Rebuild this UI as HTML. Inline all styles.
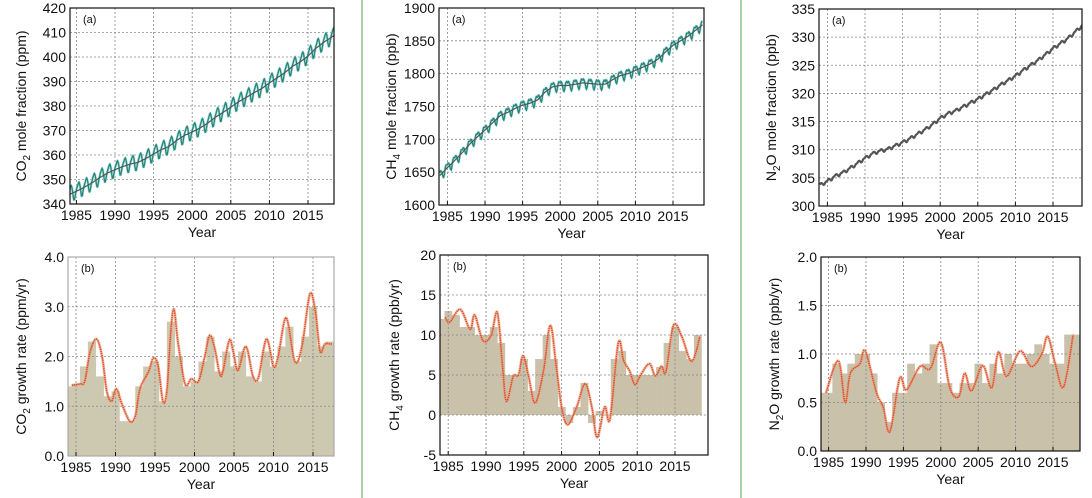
<!DOCTYPE html>
<html><head><meta charset="utf-8"><style>
html,body{margin:0;padding:0;background:#fff;}
svg{display:block;font-family:"Liberation Sans",Arial,sans-serif;}
</style></head><body>
<svg id="fig" width="1092" height="498" viewBox="0 0 1092 498" xmlns="http://www.w3.org/2000/svg">
<rect x="0" y="0" width="1092" height="498" fill="#fff"/>
<line x1="362" y1="0" x2="362" y2="498" stroke="#8cc08c" stroke-width="1.5"/>
<line x1="741" y1="0" x2="741" y2="498" stroke="#8cc08c" stroke-width="1.5"/>
</svg>
<script>
// ---- data: annual trend (from 1984) ----
const trendYears = [1984,1985,1986,1987,1988,1989,1990,1991,1992,1993,1994,1995,1996,1997,1998,1999,2000,2001,2002,2003,2004,2005,2006,2007,2008,2009,2010,2011,2012,2013,2014,2015,2016,2017,2018,2019];
const co2Trend = [343.8,345.2,346.8,348.6,350.7,352.6,354.0,355.3,356.3,357.0,358.6,360.4,362.2,363.5,366.0,368.0,369.4,371.0,373.0,375.4,377.4,379.5,381.7,383.5,385.4,387.1,389.4,391.5,393.6,396.2,398.0,400.4,403.5,405.9,408.0,410.0];
const ch4Trend = [1645,1657,1668,1680,1693,1704,1714,1725,1736,1741,1747,1752,1755,1760,1772,1780,1782,1782,1784,1786,1785,1784,1784,1791,1797,1800,1805,1810,1815,1822,1833,1843,1850,1857,1866,1875];
const n2oTrend = [303.7,304.4,305.3,305.9,306.7,307.6,308.5,309.3,309.8,310.1,310.7,311.3,312.0,312.8,313.6,314.5,315.6,316.4,316.9,317.6,318.3,319.0,319.8,320.6,321.5,322.3,323.1,324.1,325.0,325.9,326.9,328.0,328.9,329.8,331.0,332.2];
const co2Season = [0.6,1.4,2.1,2.9,3.2,2.4,0.8,-1.4,-3.0,-3.1,-1.8,-0.5];
const ch4Season = [4,6,5,2,-2,-7,-9,-6,0,4,6,5];
const n2oSeason = [0.1,0.2,0.25,0.2,0.05,-0.15,-0.3,-0.3,-0.15,0,0.05,0.05];

// ---- data: growth rate bars (centered on year) ----
const barYears = [1984,1985,1986,1987,1988,1989,1990,1991,1992,1993,1994,1995,1996,1997,1998,1999,2000,2001,2002,2003,2004,2005,2006,2007,2008,2009,2010,2011,2012,2013,2014,2015,2016,2017,2018];
const co2Bars = [1.4,1.45,1.8,2.3,1.6,1.2,1.3,0.7,0.7,1.4,1.8,1.9,1.1,2.7,2.0,1.4,1.5,1.9,2.4,1.7,2.1,1.8,2.1,1.6,1.5,2.1,1.8,2.2,2.6,1.9,2.4,3.0,2.2,2.3,2.3];
const ch4Bars = [12,13,12.5,11,11,10,10,11,9,5,5,7,3,7,10,7,1,-1,1,4,-1,0.5,0,7,8,5,5,5,5,6,9,11,8,7,10];
const n2oBars = [0.6,0.6,0.9,0.8,0.9,1.0,1.0,0.8,0.5,0.3,0.6,0.6,0.9,0.8,0.9,1.1,0.7,0.7,0.6,0.7,0.7,0.9,0.7,0.9,0.8,1.0,0.9,0.9,1.0,1.1,1.0,0.9,0.9,1.2,1.2];

// ---- data: smoothed growth rate curves ----
const co2GrYears = [1984.45,1985.5,1986.1,1986.8,1987.6,1988.3,1988.9,1989.5,1990.1,1990.8,1991.8,1992.5,1993.1,1994.2,1994.8,1995.4,1996.0,1996.5,1997.0,1997.4,1997.9,1998.8,1999.6,2000.5,2001.3,2001.9,2002.5,2003.2,2003.6,2004.4,2004.9,2005.5,2006.5,2007.4,2008.1,2009.1,2010.0,2010.6,2011.6,2012.7,2013.6,2014.6,2015.3,2015.9,2016.5,2017.4];
const co2GrVals = [1.42,1.45,1.5,2.1,2.35,2.0,1.3,1.1,1.35,1.05,0.7,0.8,1.35,1.7,1.97,1.8,1.1,1.3,2.5,2.95,2.3,1.45,1.55,1.5,2.0,2.42,2.2,1.65,1.7,2.33,2.1,1.72,2.2,1.6,1.58,2.35,1.8,2.0,2.78,1.9,2.2,3.25,2.9,2.1,2.25,2.25];
const ch4GrYears = [1984.6,1985.2,1986.6,1987.9,1988.5,1989.6,1990.7,1991.5,1992.2,1992.7,1993.6,1994.3,1994.9,1995.6,1996.5,1997.6,1998.5,1999.3,2000.0,2000.8,2002.0,2003.1,2004.0,2004.7,2005.7,2006.4,2007.5,2008.2,2009.0,2009.7,2010.4,2011.6,2012.4,2013.2,2013.8,2014.8,2015.9,2017.2,2018.3];
const ch4GrVals = [12.2,11.6,13.2,10.7,12.5,9.3,10.0,12.8,6.0,1.7,4.8,5.0,7.4,5.0,1.5,5.5,11.2,6.0,1.0,-1.2,1.0,3.9,1.0,-2.8,1.0,-0.5,9.0,6.8,5.5,3.8,4.9,6.4,4.9,6.1,5.4,11.2,9.8,6.7,9.8];
const n2oGrYears = [1984.65,1986.3,1987.2,1987.9,1989.2,1989.9,1991.4,1992.3,1993.2,1994.5,1995.4,1997.2,1998.6,2000.0,2001.2,2002.4,2003.2,2004.1,2005.6,2006.8,2007.7,2008.8,2010.6,2012.1,2013.5,2014.3,2015.3,2016.4,2017.7];
const n2oGrVals = [0.6,0.93,0.5,0.8,0.9,1.03,0.6,0.45,0.2,0.75,0.63,0.87,0.85,1.12,0.65,0.56,0.8,0.62,0.88,0.65,1.02,0.77,1.03,0.87,1.0,1.18,0.9,0.66,1.2];

const yTicksCO2 = [340,350,360,370,380,390,400,410,420];
const yTicksCH4 = [1600,1650,1700,1750,1800,1850,1900];
const yTicksN2O = [300,305,310,315,320,325,330,335];
const yTicksCO2g = [0,1,2,3,4];
const yTicksCH4g = [-5,0,5,10,15,20];
const yTicksN2Og = [0,0.5,1,1.5,2];
const xTicks = [1985,1990,1995,2000,2005,2010,2015];

const NS = "http://www.w3.org/2000/svg";
const svg = document.getElementById('fig');
function mk(tag, attrs, parent){ const e=document.createElementNS(NS,tag); for(const k in attrs) e.setAttribute(k,attrs[k]); (parent||svg).appendChild(e); return e; }

function catmull(pts){
  let d = "M"+pts[0][0].toFixed(1)+","+pts[0][1].toFixed(1);
  for(let i=0;i<pts.length-1;i++){
    const p0=pts[Math.max(0,i-1)], p1=pts[i], p2=pts[i+1], p3=pts[Math.min(pts.length-1,i+2)];
    const c1x=p1[0]+(p2[0]-p0[0])/6, c1y=p1[1]+(p2[1]-p0[1])/6;
    const c2x=p2[0]-(p3[0]-p1[0])/6, c2y=p2[1]-(p3[1]-p1[1])/6;
    d+=" C"+c1x.toFixed(1)+","+c1y.toFixed(1)+" "+c2x.toFixed(1)+","+c2y.toFixed(1)+" "+p2[0].toFixed(1)+","+p2[1].toFixed(1);
  }
  return d;
}

function panel(c){
  const g = mk('g',{});
  
  
  const X = yr => c.gx + (yr-1990)*c.ppy;
  const Y = v => c.b - (v-c.y0)/(c.y1-c.y0)*(c.b-c.t);
  const clipId = c.name+'-clip';
  const defs = mk('defs',{},g);
  const cp = mk('clipPath',{id:clipId},defs);
  mk('rect',{x:c.l,y:c.t,width:c.r-c.l,height:c.b-c.t},cp);
  const plot = mk('g',{'clip-path':'url(#'+clipId+')'},g);
  
  

  if(c.bars){
    c.barY.forEach((yr,i)=>{
      const v=c.bars[i];
      const x0=X(yr-0.5), x1=X(yr+0.5);
      const bar = mk('rect',{x:x0,y:Math.min(Y(v),Y(0)),width:x1-x0+0.3,height:Math.abs(Y(v)-Y(0)),fill:c.barColor},plot);
      
      
    });
  }
  xTicks.forEach(t=>{ const ln=mk('line',{x1:X(t),x2:X(t),y1:c.t,y2:c.b,stroke:'#888','stroke-width':0.8,'stroke-dasharray':'2,2'},plot);
      });
  c.yt.forEach(t=>{ const ln=mk('line',{x1:c.l,x2:c.r,y1:Y(t),y2:Y(t),stroke:'#888','stroke-width':0.8,'stroke-dasharray':'2,2'},plot);
      });

  if(c.trend){
    const pts=[];
    for(let i=0;i<trendYears.length-1;i++){
      for(let m=0;m<12;m++){
        const f=m/12;
        const tv=c.trend[i]+(c.trend[i+1]-c.trend[i])*f;
        pts.push([X(trendYears[i]+f), Y(tv+c.season[m]), Y(tv)]);
      }
    }
    const sd = pts.map((p,i)=>(i?'L':'M')+p[0].toFixed(1)+','+p[1].toFixed(1)).join(' ');
    const td = pts.map((p,i)=>(i?'L':'M')+p[0].toFixed(1)+','+p[2].toFixed(1)).join(' ');
    if(c.seasonColor){
      const halo=mk('path',{d:sd,fill:'none',stroke:'#9fe6e2','stroke-width':2.6,'stroke-linejoin':'round'},plot);
       
      const sl=mk('path',{d:sd,fill:'none',stroke:c.seasonColor,'stroke-width':1.3},plot);
       
      const tl=mk('path',{d:td,fill:'none',stroke:'#555','stroke-width':1.2},plot);
       
    } else {
      const sl=mk('path',{d:sd,fill:'none',stroke:'#555','stroke-width':2.2},plot);
       
    }
  }
  if(c.gy){
    const pts=c.gy.map((yr,i)=>[X(yr),Y(c.gv[i])]);
    const gl=mk('path',{d:catmull(pts),fill:'none',stroke:'#f0a080','stroke-width':3,opacity:0.6},plot);
     
    const gl2=mk('path',{d:catmull(pts),fill:'none',stroke:'#d4502a','stroke-width':1.5,'stroke-dasharray':'1.5,0.7'},plot);
     
  }
  const fr=mk('rect',{x:c.l,y:c.t,width:c.r-c.l,height:c.b-c.t,fill:'none',stroke:c.frame||'#111','stroke-width':1.2},g);
   
  xTicks.forEach(t=>{ const tx=mk('text',{x:X(t),y:c.b+16,'font-size':14,'text-anchor':'middle',fill:'#111'},g); tx.textContent=t;
     
    const tk=mk('line',{x1:X(t),x2:X(t),y1:c.b,y2:c.b-4,stroke:'#111'},g);
      });
  c.yt.forEach(t=>{ const tx=mk('text',{x:c.l-4,y:Y(t)+5,'font-size':14,'text-anchor':'end',fill:'#111'},g); tx.textContent=c.fmt?t.toFixed(1):t;
      });
  const xt=mk('text',{x:(c.l+c.r)/2,y:c.b+33,'font-size':14,'text-anchor':'middle',fill:'#111'},g); xt.textContent='Year';
   
  const yt=mk('text',{x:0,y:0,'font-size':14,'text-anchor':'middle',fill:'#111',transform:'translate('+c.ytx+','+((c.t+c.b)/2)+') rotate(-90)'},g);
   
  c.ytitle.forEach(([s,sub])=>{ const ts=mk('tspan',sub?{'font-size':10,dy:4}:{dy:sub===false?-4:0},yt); ts.textContent=s; });
  const lb=mk('text',{x:c.l+13,y:c.t+15,'font-size':11,fill:'#111'},g); lb.textContent=c.label;
   
}

panel({name:'co2-mole-fraction-chart',l:70,r:334,t:8,b:204,gx:115,ppy:7.72,y0:340,y1:420,yt:yTicksCO2,trend:co2Trend,season:co2Season,seasonColor:'#2f8278',ytx:26,ytitle:[['CO'],['2',1],[' mole fraction (ppm)',false]],label:'(a)'});
panel({name:'ch4-mole-fraction-chart',l:439,r:704,t:8,b:205,gx:485,ppy:7.52,y0:1600,y1:1900,yt:yTicksCH4,trend:ch4Trend,season:ch4Season,seasonColor:'#2f8278',ytx:396,ytitle:[['CH'],['4',1],[' mole fraction (ppb)',false]],label:'(a)'});
panel({name:'n2o-mole-fraction-chart',l:819,r:1082,t:9,b:206,gx:865,ppy:7.52,y0:300,y1:335,yt:yTicksN2O,trend:n2oTrend,season:n2oSeason,ytx:776,ytitle:[['N'],['2',1],['O mole fraction (ppb)',false]],label:'(a)'});
panel({name:'co2-growth-rate-chart',l:68,r:334,t:257,b:456,gx:115.5,ppy:7.9,y0:0,y1:4,yt:yTicksCO2g,fmt:1,bars:co2Bars,barY:barYears,barColor:'#cdc9b0',gy:co2GrYears,gv:co2GrVals,frame:'#aaa',ytx:26,ytitle:[['CO'],['2',1],[' growth rate (ppm/yr)',false]],label:'(b)'});
panel({name:'ch4-growth-rate-chart',l:440,r:708,t:255,b:455,gx:486,ppy:7.56,y0:-5,y1:20,yt:yTicksCH4g,bars:ch4Bars,barY:barYears,barColor:'#c9c1aa',gy:ch4GrYears,gv:ch4GrVals,ytx:399,ytitle:[['CH'],['4',1],[' growth rate (ppb/yr)',false]],label:'(b)'});
panel({name:'n2o-growth-rate-chart',l:821,r:1080,t:257,b:451,gx:866,ppy:7.48,y0:0,y1:2,yt:yTicksN2Og,fmt:1,bars:n2oBars,barY:barYears,barColor:'#c9c1aa',gy:n2oGrYears,gv:n2oGrVals,ytx:779,ytitle:[['N'],['2',1],['O growth rate (ppb/yr)',false]],label:'(b)'});
</script>
</body></html>
